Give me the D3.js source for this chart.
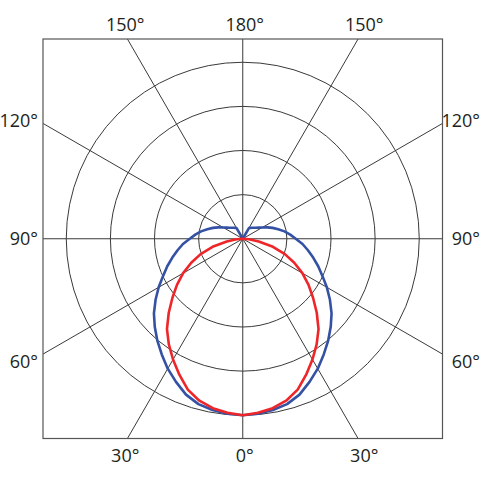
<!DOCTYPE html>
<html>
<head>
<meta charset="utf-8">
<script src="https://cdn.jsdelivr.net/npm/d3@7"></script>
<style>
  body { margin: 0; background: #fff; }
  text { font-family: "Open Sans", sans-serif; font-size: 18px; fill: #231f20; }
</style>
</head>
<body>
<div class="chart"></div>
<script>
// angles measured from straight down (0°), in degrees
var angles = [0, 5, 10, 15, 20, 25, 30, 35, 40, 45, 50, 55, 60, 65, 70, 75, 80, 85, 90,
  95, 100, 105, 110, 115, 120, 125, 130, 135, 140, 145, 150, 155];

// relative intensity, blue series
var blueValues = [1.0, 0.995, 0.985, 0.97, 0.94, 0.895, 0.85, 0.8, 0.753, 0.705, 0.657,
  0.603, 0.55, 0.498, 0.455, 0.413, 0.375, 0.34, 0.3,
  0.27, 0.24, 0.208, 0.18, 0.153, 0.128, 0.11, 0.097, 0.088, 0.081, 0.075, 0.07, 0];

// relative intensity, red series (0° to 90°)
var redValues = [1.0, 0.99, 0.975, 0.95, 0.91, 0.85, 0.79, 0.73, 0.668, 0.593, 0.52,
  0.455, 0.39, 0.322, 0.254, 0.177, 0.092, 0.035, 0];

var gridRings = [0.25, 0.5, 0.75, 1.0];
var gridSpokes = [0, 30, 60, 90, 120, 150, 180, 210, 240, 270, 300, 330];

var topLabels = ["150°", "180°", "150°"];
var bottomLabels = ["30°", "0°", "30°"];
var sideLabels = ["120°", "90°", "60°"];

var svgWidth = 480;
var svgHeight = 480;

var box = { left: 43, top: 39, size: 399.5 };
var cx = box.left + box.size / 2;
var cy = box.top + box.size / 2;
var outerR = 176.5;

var svg = d3.select(".chart")
  .append("svg")
  .attr("width", svgWidth)
  .attr("height", svgHeight);

svg.append("defs")
  .append("clipPath")
  .attr("id", "boxClip")
  .append("rect")
  .attr("x", box.left)
  .attr("y", box.top)
  .attr("width", box.size)
  .attr("height", box.size);

var rScale = d3.scaleLinear().domain([0, 1]).range([0, outerR]);

var grid = svg.append("g").attr("clip-path", "url(#boxClip)")
  .append("g")
  .attr("transform", "translate(" + cx + "," + cy + ")");

var chart = svg.append("g")
  .attr("transform", "translate(" + cx + "," + cy + ")");

// rings
grid.selectAll("circle")
  .data(gridRings)
  .enter()
  .append("circle")
  .attr("r", function(d) { return rScale(d); })
  .attr("fill", "none")
  .attr("stroke", "#3a3a3a")
  .attr("stroke-width", 1);

// spokes, long enough to reach the frame, clipped by it
grid.selectAll("line")
  .data(gridSpokes)
  .enter()
  .append("line")
  .attr("x1", 0)
  .attr("y1", 0)
  .attr("x2", function(d) { return Math.sin(d * Math.PI / 180) * 400; })
  .attr("y2", function(d) { return Math.cos(d * Math.PI / 180) * 400; })
  .attr("stroke", "#3a3a3a")
  .attr("stroke-width", 1);

// frame
svg.append("rect")
  .attr("x", box.left)
  .attr("y", box.top)
  .attr("width", box.size)
  .attr("height", box.size)
  .attr("fill", "none")
  .attr("stroke", "#555")
  .attr("stroke-width", 1.2);

// mirror a one-sided distribution into a closed polar outline
function mirrored(values) {
  var pts = [];
  for (var i = values.length - 1; i >= 0; i--) {
    pts.push({ a: Math.PI + angles[i] * Math.PI / 180, r: values[i] });
  }
  for (var j = 1; j < values.length; j++) {
    pts.push({ a: Math.PI - angles[j] * Math.PI / 180, r: values[j] });
  }
  return pts;
}

var radial = d3.lineRadial()
  .angle(function(d) { return d.a; })
  .radius(function(d) { return rScale(d.r); })
  .curve(d3.curveLinearClosed);

chart.append("path")
  .datum(mirrored(blueValues))
  .attr("d", radial)
  .attr("fill", "none")
  .attr("stroke", "#3451a4")
  .attr("stroke-width", 2.6)
  .attr("stroke-linejoin", "round");

chart.append("path")
  .datum(mirrored(redValues))
  .attr("d", radial)
  .attr("fill", "none")
  .attr("stroke", "#ee2629")
  .attr("stroke-width", 2.6)
  .attr("stroke-linejoin", "round");

// angle labels
var labelX = [-1, 0, 1].map(function(k) { return cx + 2 + k * 119.5; });

svg.selectAll(".top-label")
  .data(topLabels)
  .enter()
  .append("text")
  .attr("class", "top-label")
  .attr("text-anchor", "middle")
  .attr("x", function(d, i) { return labelX[i]; })
  .attr("y", box.top - 8)
  .text(function(d) { return d; });

svg.selectAll(".bottom-label")
  .data(bottomLabels)
  .enter()
  .append("text")
  .attr("class", "bottom-label")
  .attr("text-anchor", "middle")
  .attr("x", function(d, i) { return labelX[i]; })
  .attr("y", box.top + box.size + 23)
  .text(function(d) { return d; });

var sideY = [cy - 111.5, cy + 6.5, cy + 129.5];

svg.selectAll(".left-label")
  .data(sideLabels)
  .enter()
  .append("text")
  .attr("class", "left-label")
  .attr("text-anchor", "end")
  .attr("x", 38)
  .attr("y", function(d, i) { return sideY[i]; })
  .text(function(d) { return d; });

svg.selectAll(".right-label")
  .data(sideLabels)
  .enter()
  .append("text")
  .attr("class", "right-label")
  .attr("text-anchor", "end")
  .attr("x", 480)
  .attr("y", function(d, i) { return sideY[i]; })
  .text(function(d) { return d; });
</script>
</body>
</html>
